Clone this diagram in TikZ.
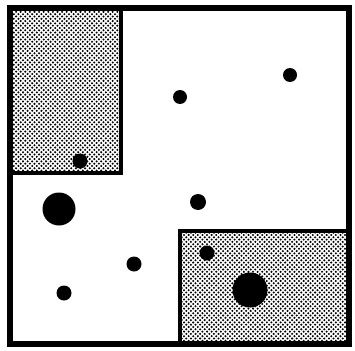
\documentclass[tikz,border=0pt]{standalone}
\usetikzlibrary{patterns.meta}
\tikzdeclarepattern{name=stipple,type=uncolored,bottom left={(-1pt,-1pt)},top right={(4pt,4pt)},tile size={(4.6pt,4.6pt)},code={\fill (0,0) circle (1.15pt); \fill (2.3pt,2.3pt) circle (1.15pt);}}
\tikzset{
  region/.style={pattern=stipple,pattern color=black,draw=black,line width=4pt},
  frame/.style={draw=black,line width=6pt},
  dot/.style={circle,fill=black,inner sep=0pt,minimum size=#1},
}
\begin{document}
\begin{tikzpicture}[x=1pt,y=-1pt]
\useasboundingbox (0,0) rectangle (355,350);
\fill[white] (0,0) rectangle (355,350);
\path[region] (10,8) rectangle (121,173);
\path[region] (180,231) rectangle (349,344);
\draw[frame] (10,8) rectangle (349,344);
\node[dot=15pt] (d1) at (80,161) {};
\node[dot=14pt] (d2) at (180,97) {};
\node[dot=14pt] (d3) at (290,75) {};
\node[dot=33pt] (d4) at (59,209) {};
\node[dot=16pt] (d5) at (198,202) {};
\node[dot=15pt] (d6) at (207,253) {};
\node[dot=15pt] (d7) at (134,264) {};
\node[dot=15pt] (d8) at (64,293) {};
\node[dot=35pt] (d9) at (250,290) {};
\end{tikzpicture}
\end{document}
